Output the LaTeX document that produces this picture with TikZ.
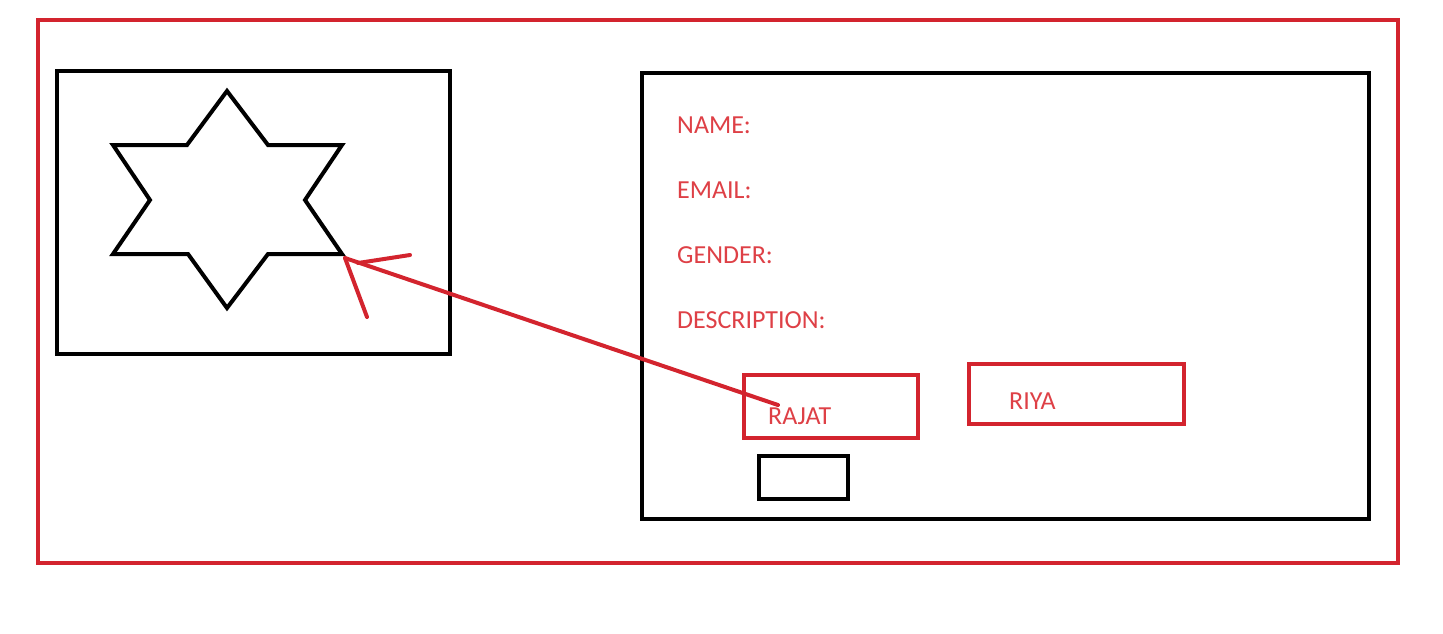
\documentclass[tikz,border=0pt]{standalone}
\usepackage{fontspec}
\setmainfont{Carlito}
\definecolor{boxred}{RGB}{211,36,46}
\definecolor{txtred}{RGB}{222,64,70}
\begin{document}
\begin{tikzpicture}[x=1pt,y=-1pt,
  redbox/.style={draw=boxred,line width=4pt},
  blackbox/.style={draw=black,line width=4pt},
  lbl/.style={text=txtred,font=\fontsize{26}{30}\selectfont,anchor=west,inner sep=0pt},
  redline/.style={draw=boxred,line width=4pt,line cap=round}]
\useasboundingbox (0,0) rectangle (1443,633);
% outer frame
\draw[redbox] (38,20) rectangle (1398,563);
% left panel with star
\draw[blackbox] (57,71) rectangle (450,354);
\draw[line width=4pt,line join=miter]
  (227,91) -- (268,145) -- (342,145) -- (305,200) -- (342,254) -- (268,254)
  -- (227,308) -- (188,254) -- (113,254) -- (150,200) -- (113,145) -- (187,145) -- cycle;
% right panel
\draw[blackbox] (642,73) rectangle (1369,519);
\node[lbl] (name) at (677,125) {NAME:};
\node[lbl] (email) at (677,190) {EMAIL:};
\node[lbl] (gender) at (677,255) {GENDER:};
\node[lbl] (desc) at (677,320) {DESCRIPTION:};
\node[redbox,minimum width=174pt,minimum height=63pt,inner sep=0pt] (rajatbox) at (831,406.5) {};
\node[lbl] (rajat) at (768,416) {RAJAT};
\node[redbox,minimum width=215pt,minimum height=60pt,inner sep=0pt] (riyabox) at (1076.5,394) {};
\node[lbl] (riya) at (1009,401) {RIYA};
\node[blackbox,minimum width=89pt,minimum height=43pt,inner sep=0pt] (smallbox) at (803.5,477.5) {};
% arrow
\coordinate (tail) at (778,405);
\coordinate (tip) at (345,258);
\coordinate (headA) at (410,255);
\coordinate (headAstart) at (358,263);
\coordinate (headB) at (367,317);
\draw[redline] (tail) -- (tip);
\draw[redline] (headAstart) -- (headA);
\draw[redline] (tip) -- (headB);
\end{tikzpicture}
\end{document}
